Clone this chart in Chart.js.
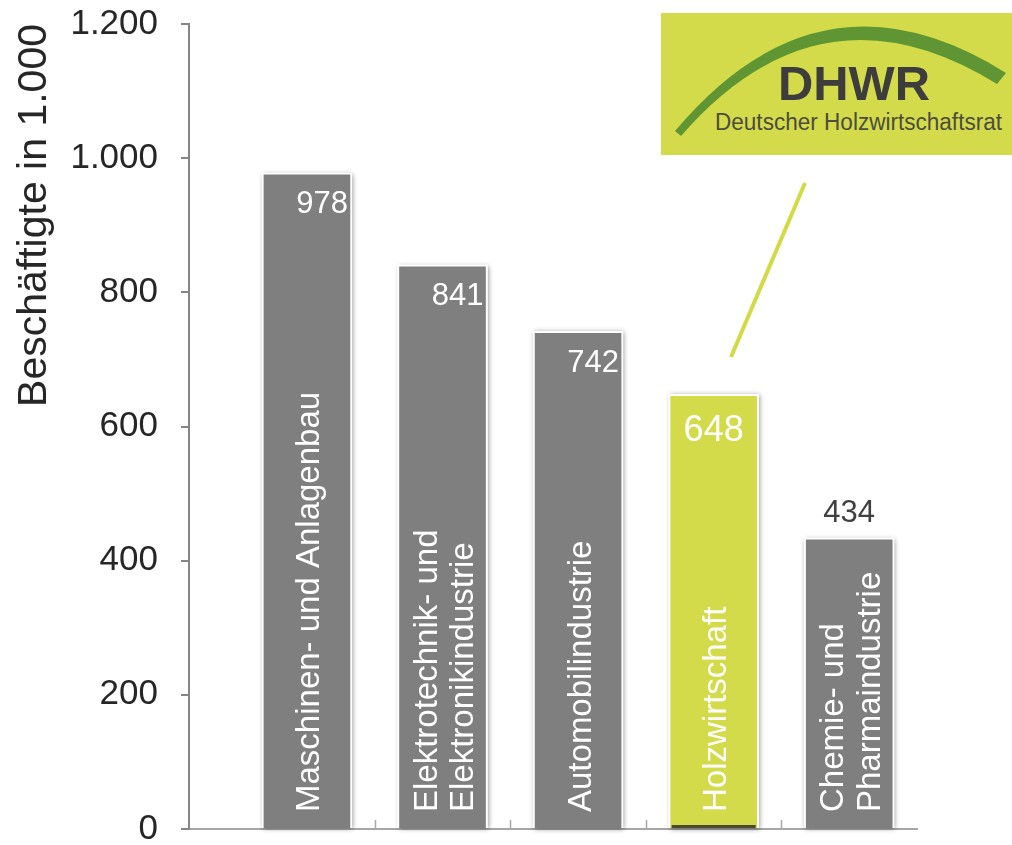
<!DOCTYPE html>
<html>
<head>
<meta charset="utf-8">
<script src="https://cdn.jsdelivr.net/npm/chart.js@4"></script>
<style>
  html, body { margin: 0; padding: 0; background: #fff; }
  #wrap { position: relative; width: 1012px; height: 845px; overflow: hidden; }
  #c { position: absolute; left: 0; top: 0; }
  #logo { position: absolute; left: 661px; top: 13px; width: 351px; height: 142px; background: #D3DB4A; }
  #overlay { position: absolute; left: 0; top: 0; pointer-events: none; }
</style>
</head>
<body>
<div id="wrap">
  <canvas id="c" width="1012" height="845"></canvas>
  <svg id="overlay" width="1012" height="845">
    <line x1="805" y1="183" x2="731" y2="357" stroke="#D2DA46" stroke-width="4"/>
  </svg>
  <div id="logo">
    <svg width="351" height="142">
      <path d="M 14 118 Q 160 -56 345 60 L 336 71 Q 160 -38 20 123 Z" fill="#5F9633"/>
      <text x="117" y="87" font-family="Liberation Sans, Arial, sans-serif" font-weight="bold" font-size="48" fill="#3D3D3D" textLength="152" lengthAdjust="spacingAndGlyphs">DHWR</text>
      <text x="54" y="117" font-family="Liberation Sans, Arial, sans-serif" font-size="23" fill="#4D4D3D" textLength="287" lengthAdjust="spacingAndGlyphs">Deutscher Holzwirtschaftsrat</text>
    </svg>
  </div>
</div>
<script>
// ---- data ----
const categories = [
  ["Maschinen- und Anlagenbau"],
  ["Elektrotechnik- und", "Elektronikindustrie"],
  ["Automobilindustrie"],
  ["Holzwirtschaft"],
  ["Chemie- und", "Pharmaindustrie"]
];
const employees = [978, 841, 742, 648, 434];
const valueLabels = ["978", "841", "742", "648", "434"];
const yTickValues = [0, 200, 400, 600, 800, 1000, 1200];
const yTickLabels = ["0", "200", "400", "600", "800", "1.000", "1.200"];
const yTitle = "Beschäftigte in 1.000";
const highlightIndex = 3;

const GRAY = "#7F7F7F";
const GREEN = "#D3DB4A";
const FONT = "'Liberation Sans', Arial, sans-serif";

const shadowPlugin = {
  id: "shadowPlugin",
  beforeDatasetsDraw(chart) {
    const ctx = chart.ctx;
    const meta = chart.getDatasetMeta(0);
    ctx.save();
    ctx.shadowColor = "rgba(0,0,0,0.45)";
    ctx.shadowBlur = 5;
    ctx.shadowOffsetX = 1;
    ctx.shadowOffsetY = 1;
    ctx.fillStyle = "#ffffff";
    meta.data.forEach(bar => {
      const w = bar.width;
      ctx.fillRect(bar.x - w / 2, bar.y, w, bar.base - bar.y);
    });
    ctx.restore();
  }
};

const labelPlugin = {
  id: "labelPlugin",
  afterDatasetsDraw(chart) {
    const ctx = chart.ctx;
    const meta = chart.getDatasetMeta(0);
    const xs = chart.scales.x;
    const area = chart.chartArea;
    ctx.save();
    ctx.strokeStyle = "#A6A6A6";
    ctx.lineWidth = 1.5;
    for (let i = 0; i < categories.length - 1; i++) {
      const px = Math.round(xs.getPixelForValue(i + 0.5)) + 0.5;
      ctx.beginPath();
      ctx.moveTo(px, area.bottom);
      ctx.lineTo(px, area.bottom - 9);
      ctx.stroke();
    }
    meta.data.forEach((bar, i) => {
      const right = bar.x + bar.width / 2;
      if (i === highlightIndex) {
        ctx.fillStyle = "#4A4A2E";
        ctx.fillRect(bar.x - bar.width / 2 + 3, bar.base - 3, bar.width - 6, 3);
      }
      ctx.textBaseline = "middle";
      if (i === highlightIndex) {
        ctx.font = "36px " + FONT;
        ctx.fillStyle = "#ffffff";
        ctx.textAlign = "center";
        ctx.fillText(valueLabels[i], bar.x, bar.y + 37);
      } else if (i === categories.length - 1) {
        ctx.font = "31px " + FONT;
        ctx.fillStyle = "#404040";
        ctx.textAlign = "center";
        ctx.fillText(valueLabels[i], bar.x, bar.y - 24);
      } else {
        ctx.font = "31px " + FONT;
        ctx.fillStyle = "#ffffff";
        ctx.textAlign = "right";
        ctx.fillText(valueLabels[i], right - 4, bar.y + 32);
      }
      const lines = categories[i];
      ctx.font = "33px " + FONT;
      ctx.fillStyle = "#ffffff";
      ctx.textAlign = "left";
      ctx.textBaseline = "alphabetic";
      const lh = 36.5;
      const first = bar.x + 12.5 - (lines.length - 1) * lh / 2;
      lines.forEach((t, k) => {
        ctx.save();
        ctx.translate(first + k * lh, area.bottom - 17);
        ctx.rotate(-Math.PI / 2);
        ctx.fillText(t, 0, 0);
        ctx.restore();
      });
    });
    ctx.restore();
  }
};

new Chart(document.getElementById("c"), {
  type: "bar",
  data: {
    datasets: [{
      data: employees.map((v, i) => ({ x: i, y: v })),
      backgroundColor: employees.map((v, i) => i === highlightIndex ? GREEN : GRAY),
      borderColor: "#ffffff",
      borderWidth: 2,
      borderSkipped: "bottom",
      barThickness: 90
    }]
  },
  options: {
    responsive: false,
    devicePixelRatio: 1,
    animation: false,
    events: [],
    layout: { padding: { left: 0, right: 95, top: 24, bottom: 16 } },
    plugins: { legend: { display: false }, tooltip: { enabled: false } },
    scales: {
      x: {
        type: "linear",
        min: -0.87,
        max: 4.5,
        afterBuildTicks: s => { s.ticks = []; },
        afterFit: s => { s.height = 0; s.paddingLeft = 0; s.paddingRight = 0; },
        ticks: { display: false },
        grid: { display: true, drawOnChartArea: false, drawTicks: false },
        border: { display: true, color: "#A6A6A6", width: 2 }
      },
      y: {
        min: 0,
        max: 1200,
        afterBuildTicks: s => { s.ticks = yTickValues.map(v => ({ value: v })); },
        afterFit: s => { s.width = 189; s.paddingTop = 0; s.paddingBottom = 0; },
        ticks: {
          callback: (v) => yTickLabels[yTickValues.indexOf(v)],
          font: { family: FONT, size: 35 },
          color: "#262626",
          padding: 23
        },
        grid: { drawOnChartArea: false, tickLength: 8, color: "#868686", lineWidth: 2 },
        border: { color: "#868686", width: 2 },
        title: {
          display: true,
          text: yTitle,
          align: "end",
          font: { family: FONT, size: 41 },
          color: "#262626",
          padding: { top: 10, bottom: 0 }
        }
      }
    }
  },
  plugins: [shadowPlugin, labelPlugin]
});
</script>
</body>
</html>
